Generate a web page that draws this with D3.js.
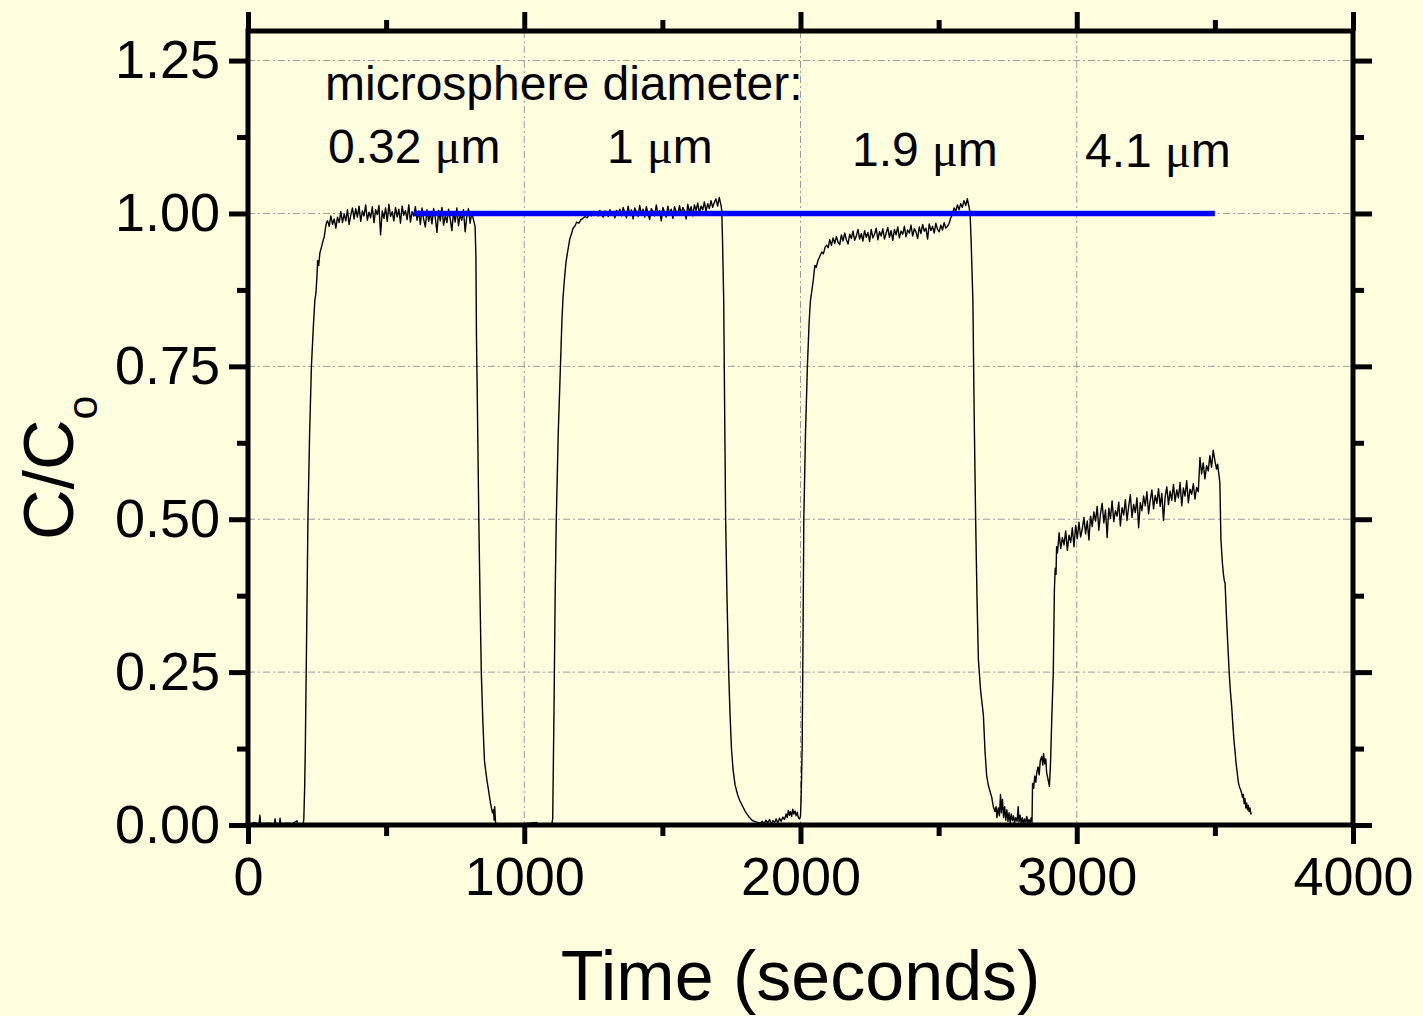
<!DOCTYPE html>
<html>
<head>
<meta charset="utf-8">
<script src="https://cdn.jsdelivr.net/npm/d3@7"></script>
<style>
  html, body { margin: 0; padding: 0; background: #ffffe0; }
  svg { display: block; }
</style>
</head>
<body>
<script>
// axis ticks
const xMajor = [0, 1000, 2000, 3000, 4000];
const xMinor = [500, 1500, 2500, 3500];
const xTickLabels = ["0", "1000", "2000", "3000", "4000"];
const yMajor = [0, 0.25, 0.5, 0.75, 1.0, 1.25];
const yMinor = [0.125, 0.375, 0.625, 0.875, 1.125];
const yTickLabels = ["0.00", "0.25", "0.50", "0.75", "1.00", "1.25"];
const xGrid = [1000, 2000, 3000];
const yGrid = [0.25, 0.5, 0.75, 1.0, 1.25];

// annotations
const annoTitle = "microsphere diameter:";
const sizeLabels = ["0.32 ", "1 ", "1.9 ", "4.1 "];

// blue reference line C/Co = 1
const refT = [600, 3500];
const refC = [1.0, 1.0];

// measured trace, [time s, C/Co]
const base1 = [[0, 0.003], [10, 0.002], [20, 0.004], [40, 0.002], [43, 0.016], [46, 0.002], [70, 0.003],
  [95, 0.002], [98, 0.010], [101, 0.002], [114, 0.003], [116, 0.011], [119, 0.002], [140, 0.003],
  [160, 0.002], [177, 0.007], [180, 0.002], [200, 0.002]];
const rise1 = [[202, 0.01], [205, 0.06], [207.5, 0.126], [212, 0.30], [217, 0.5], [223, 0.64], [229.6, 0.75],
  [236, 0.81], [242, 0.858], [246, 0.87], [250, 0.90], [252, 0.923], [256, 0.915], [260, 0.935],
  [266, 0.945], [272, 0.956], [276, 0.962], [280, 0.975], [284, 0.985]];
const plateau1Start = 288, plateau1Step = 6;
const plateau1 = [0.988, 0.979, 0.996, 0.982, 0.991, 0.976, 0.994, 0.985,
  1.003, 0.985, 0.999, 0.988, 1.006, 0.982, 0.997, 1.009,
  0.991, 1.008, 0.994, 1.012, 0.987, 1.004, 0.996, 1.014,
  0.989, 1.002, 0.993, 1.011, 0.985, 1.006, 0.998, 1.013, 0.965, 1.004, 0.992, 1.009, 0.987, 1.015,
  0.995, 1.003, 0.988, 1.010, 0.994, 1.007, 0.984, 1.012, 0.997, 1.005, 0.990, 1.014, 0.986, 1.003,
  0.996, 1.011, 0.989,
  1.004, 0.982, 1.009, 0.990, 0.978, 1.006, 0.987, 1.001, 0.983, 1.008, 0.993, 0.969, 1.005, 0.988,
  1.010, 0.981, 0.997, 0.985, 1.007, 0.991, 0.972, 1.003, 0.986, 1.009, 0.980, 0.998, 0.989, 1.006,
  0.970, 0.995, 1.008, 0.984, 1.001, 0.990, 0.979];
const fall1 = [[825, 0.93], [827, 0.80], [830, 0.70], [835.5, 0.5], [840, 0.37], [844.5, 0.25], [850, 0.17],
  [856, 0.105], [860, 0.09], [866, 0.07], [872, 0.053], [878, 0.035], [885, 0.02], [889, 0.025],
  [891, 0.008], [893, 0.03], [896, 0.004], [900, 0.002], [950, 0.001], [1000, 0.002], [1046, 0.004],
  [1050, 0.001], [1100, 0.002]];
const rise2 = [[1103, 0.01], [1108, 0.2], [1112, 0.38], [1116, 0.5], [1123, 0.64], [1131, 0.75], [1136, 0.82],
  [1140, 0.86], [1145, 0.89], [1151, 0.92], [1158, 0.94], [1165, 0.959], [1170, 0.965], [1176, 0.975],
  [1184, 0.98], [1190, 0.986], [1198, 0.984], [1205, 0.99], [1213, 0.992], [1220, 0.995], [1228, 0.993],
  [1235, 0.998], [1243, 0.996], [1250, 1.000], [1256, 0.998]];
const plateau2Start = 1262, plateau2Step = 6;
const plateau2 = [1.003, 0.996, 1.005, 0.998, 0.994, 1.004, 1.000, 0.995, 1.006, 0.997, 1.002, 0.993, 1.005, 0.999, 1.007,
  0.996, 1.010, 1.001, 0.993, 1.012, 0.998, 1.006, 0.991, 1.009, 1.002, 0.995, 1.013, 0.999, 1.007, 0.994,
  1.011, 1.000, 0.990, 1.008, 1.003, 0.996, 1.014, 0.998, 1.005, 0.988, 1.010, 1.001, 0.994, 1.012, 0.999,
  1.007, 0.992, 1.011, 1.003, 0.997,
  1.013, 0.999, 1.010, 1.004, 0.991, 1.015, 1.002, 1.011, 0.996, 1.014, 1.005, 1.017, 1.000, 1.012, 1.006,
  1.019, 1.003, 1.016, 1.008, 1.021, 1.010, 1.018, 1.024, 1.012, 1.026, 1.014];
const fall2 = [[1715, 1.005], [1718, 0.95], [1722, 0.858], [1726, 0.65], [1729, 0.5], [1734, 0.37], [1740, 0.25],
  [1745, 0.18], [1750, 0.126], [1756, 0.09], [1763, 0.066], [1772, 0.05], [1780, 0.04], [1790, 0.031],
  [1800, 0.022], [1812, 0.014], [1827, 0.007], [1840, 0.005], [1853, 0.003], [1862, 0.006], [1868, 0.002],
  [1875, 0.008], [1881, 0.003], [1888, 0.009], [1894, 0.002], [1900, 0.007], [1906, 0.004], [1912, 0.01],
  [1918, 0.003], [1924, 0.011], [1930, 0.006], [1936, 0.013], [1942, 0.009], [1948, 0.018], [1952, 0.012],
  [1956, 0.024], [1960, 0.016], [1964, 0.022], [1968, 0.014], [1972, 0.026], [1976, 0.018], [1980, 0.023],
  [1984, 0.015], [1988, 0.021], [1992, 0.012], [1997, 0.01], [2000, 0.015], [2002, 0.04]];
const rise3 = [[2004, 0.08], [2006, 0.126], [2009, 0.3], [2012, 0.5], [2018, 0.64], [2025, 0.75], [2031, 0.82],
  [2036, 0.858], [2040, 0.87], [2046, 0.89], [2052, 0.915], [2057, 0.912], [2063, 0.923], [2070, 0.93],
  [2077, 0.937], [2083, 0.934], [2089, 0.945], [2095, 0.948]];
const plateau3Start = 2100, plateau3Step = 6;
const plateau3 = [0.944, 0.957, 0.948, 0.960, 0.951, 0.962, 0.953, 0.949, 0.965, 0.955,
  0.968, 0.957, 0.950, 0.966, 0.959, 0.971, 0.956, 0.963, 0.974, 0.958,
  0.967, 0.955, 0.972, 0.961, 0.969, 0.954, 0.974, 0.960, 0.966, 0.976,
  0.957, 0.970, 0.963, 0.975, 0.958, 0.968, 0.977, 0.961, 0.972, 0.956,
  0.974, 0.965, 0.978, 0.960, 0.971, 0.966, 0.979, 0.962, 0.973, 0.968,
  0.981, 0.963, 0.975, 0.970, 0.959, 0.978, 0.967, 0.982, 0.971, 0.976,
  0.958, 0.983, 0.972, 0.979, 0.968, 0.984, 0.974, 0.970, 0.981, 0.973,
  0.985, 0.976, 0.979, 0.984, 0.993, 0.998, 1.009, 1.004, 1.014, 1.006,
  1.016, 1.010, 1.021, 1.013, 1.024, 1.011];
const fall3 = [[2614, 1.0], [2618, 0.95], [2624, 0.858], [2629, 0.66], [2634, 0.5], [2639, 0.37], [2644, 0.27],
  [2652, 0.22], [2662, 0.18], [2668, 0.12], [2674, 0.08], [2680, 0.065], [2686, 0.055], [2692, 0.046],
  [2698, 0.03], [2704, 0.022], [2708, 0.03], [2711, 0.012], [2716, 0.028], [2720, 0.015], [2724, 0.05],
  [2727, 0.02], [2731, 0.042], [2735, 0.012], [2739, 0.03], [2743, 0.008], [2747, 0.025], [2751, 0.006],
  [2755, 0.02], [2759, 0.004], [2763, 0.018], [2767, 0.007], [2771, 0.015], [2775, 0.003], [2779, 0.012],
  [2784, 0.006], [2788, 0.03], [2791, 0.005], [2795, 0.016], [2799, 0.002], [2803, 0.012], [2807, 0.003],
  [2811, 0.01], [2815, 0.002], [2819, 0.014], [2823, 0.004], [2827, 0.009], [2831, 0.002], [2835, 0.012],
  [2838, 0.003], [2840, 0.068], [2844, 0.06], [2848, 0.08], [2852, 0.07], [2855, 0.085], [2860, 0.095],
  [2864, 0.082], [2868, 0.105], [2873, 0.112], [2877, 0.098], [2880, 0.117], [2884, 0.10], [2888, 0.108],
  [2891, 0.085], [2896, 0.075], [2901, 0.063], [2905, 0.10], [2910, 0.18], [2915, 0.248], [2919, 0.384],
  [2922, 0.42], [2925, 0.41], [2927, 0.455], [2930, 0.445], [2933, 0.46]];
const plateau4Start = 2936, plateau4Step = 6;
const plateau4 = [0.478, 0.452, 0.470, 0.458, 0.481, 0.449, 0.474, 0.462, 0.486, 0.455,
  0.490, 0.468, 0.495, 0.471, 0.484, 0.503, 0.476, 0.497, 0.466, 0.505,
  0.488, 0.512, 0.497, 0.521, 0.482, 0.509, 0.526, 0.494, 0.515, 0.470,
  0.518, 0.501, 0.530, 0.496, 0.514, 0.505, 0.528, 0.489, 0.519, 0.507,
  0.532, 0.498, 0.521, 0.540, 0.503, 0.524, 0.511, 0.535, 0.486, 0.527,
  0.514, 0.538, 0.522, 0.545, 0.509, 0.531, 0.548, 0.517, 0.539, 0.526,
  0.550, 0.521, 0.542, 0.498, 0.537, 0.553, 0.524, 0.546, 0.531, 0.557,
  0.529, 0.548, 0.535, 0.560, 0.522, 0.551, 0.538, 0.563, 0.527, 0.549,
  0.541, 0.558, 0.533, 0.552, 0.545, 0.601,
  0.574, 0.592, 0.566, 0.588, 0.579, 0.604, 0.585, 0.613, 0.596, 0.582];
const fall4 = [[3510, 0.59], [3514, 0.575], [3518, 0.56], [3522, 0.466], [3527, 0.43], [3531, 0.41], [3534, 0.40],
  [3537, 0.395], [3542, 0.34], [3546, 0.302], [3552, 0.248], [3556, 0.22], [3561, 0.193], [3565, 0.165],
  [3569, 0.139], [3573, 0.12], [3577, 0.10], [3581, 0.085], [3585, 0.07], [3589, 0.062], [3593, 0.058],
  [3597, 0.052], [3600, 0.045], [3603, 0.05], [3606, 0.035], [3609, 0.043], [3612, 0.028], [3615, 0.036],
  [3618, 0.025], [3621, 0.032], [3624, 0.022], [3627, 0.028], [3630, 0.018], [3634, 0.019]];

const sampled = (start, step, vals) => vals.map((v, i) => [start + i * step, v]);

const trace = [].concat(
  base1, rise1, sampled(plateau1Start, plateau1Step, plateau1), fall1,
  rise2, sampled(plateau2Start, plateau2Step, plateau2), fall2,
  rise3, sampled(plateau3Start, plateau3Step, plateau3), fall3,
  sampled(plateau4Start, plateau4Step, plateau4), fall4);

const width = 1423, height = 1016;
const plotLeft = 248, plotRight = 1353, plotTop = 31, plotBottom = 825;
const font = '"Liberation Sans", Arial, sans-serif';

const svg = d3.select("body").append("svg")
    .attr("width", width)
    .attr("height", height);

svg.append("rect")
    .attr("width", width)
    .attr("height", height)
    .attr("fill", "#ffffe0");

const x = d3.scaleLinear().domain([0, 4000]).range([plotLeft, plotRight]);
const y = d3.scaleLinear().domain([0, 1.3]).range([plotBottom, 30]);

// grid
const grid = svg.append("g")
    .attr("stroke", "#999")
    .attr("stroke-width", 1)
    .attr("stroke-dasharray", "7,3,2,3");
grid.selectAll(".gx").data(xGrid).enter().append("line")
    .attr("x1", d => x(d)).attr("x2", d => x(d))
    .attr("y1", plotTop).attr("y2", plotBottom);
grid.selectAll(".gy").data(yGrid).enter().append("line")
    .attr("x1", plotLeft).attr("x2", plotRight)
    .attr("y1", d => y(d)).attr("y2", d => y(d));

svg.append("clipPath").attr("id", "plot")
  .append("rect")
    .attr("x", plotLeft).attr("y", plotTop)
    .attr("width", plotRight - plotLeft).attr("height", plotBottom - plotTop);

let line = d3.line()
    .x(d => x(d[0]))
    .y(d => y(d[1]));

svg.append("path")
    .datum(trace)
    .attr("clip-path", "url(#plot)")
    .attr("fill", "none")
    .attr("stroke", "#000")
    .attr("stroke-width", 1.4)
    .attr("stroke-linejoin", "round")
    .attr("d", line);

svg.append("path")
    .datum(refT.map((t, i) => [t, refC[i]]))
    .attr("fill", "none")
    .attr("stroke", "#0000ff")
    .attr("stroke-width", 5.5)
    .attr("d", line);

// axes, ticks pointing outward on every side
function addAxis(axis, transform) {
    const g = svg.append("g")
        .attr("transform", transform)
        .call(axis);
    g.select(".domain").remove();
    g.selectAll(".tick line").attr("stroke", "#000").attr("stroke-width", 5);
    return g;
}

addAxis(d3.axisBottom(x).tickValues(xMajor).tickSize(19).tickPadding(13)
    .tickFormat((d, i) => xTickLabels[i]), `translate(0,${plotBottom})`);
addAxis(d3.axisBottom(x).tickValues(xMinor).tickSize(11).tickFormat(""), `translate(0,${plotBottom})`);
addAxis(d3.axisTop(x).tickValues(xMajor).tickSize(19).tickFormat(""), `translate(0,${plotTop})`);
addAxis(d3.axisTop(x).tickValues(xMinor).tickSize(11).tickFormat(""), `translate(0,${plotTop})`);

addAxis(d3.axisLeft(y).tickValues(yMajor).tickSize(19).tickPadding(9)
    .tickFormat((d, i) => yTickLabels[i]), `translate(${plotLeft},0)`);
addAxis(d3.axisLeft(y).tickValues(yMinor).tickSize(11).tickFormat(""), `translate(${plotLeft},0)`);
addAxis(d3.axisRight(y).tickValues(yMajor).tickSize(19).tickFormat(""), `translate(${plotRight},0)`);
addAxis(d3.axisRight(y).tickValues(yMinor).tickSize(11).tickFormat(""), `translate(${plotRight},0)`);

svg.selectAll(".tick text").attr("font-family", font).attr("font-size", 54).attr("fill", "#000");

// frame
svg.append("rect")
    .attr("x", plotLeft).attr("y", plotTop)
    .attr("width", plotRight - plotLeft).attr("height", plotBottom - plotTop)
    .attr("fill", "none")
    .attr("stroke", "#000")
    .attr("stroke-width", 5);

// axis titles
svg.append("text")
    .attr("x", (plotLeft + plotRight) / 2)
    .attr("y", 1000)
    .attr("text-anchor", "middle")
    .attr("font-family", font)
    .attr("font-size", 70)
    .text("Time (seconds)");

const yTitle = svg.append("text")
    .attr("transform", "translate(73,540) rotate(-90)")
    .attr("font-family", font)
    .attr("font-size", 70);
yTitle.append("tspan").text("C/C");
yTitle.append("tspan").attr("font-size", 43).attr("dy", 24).text("o");

// annotations
svg.append("text")
    .attr("x", 325).attr("y", 100)
    .attr("font-family", font)
    .attr("font-size", 48)
    .text(annoTitle);

const labelX = [328, 607, 852, 1085];
const labelY = [163, 163, 166, 167];
sizeLabels.forEach((s, i) => {
    const t = svg.append("text")
        .attr("x", labelX[i]).attr("y", labelY[i])
        .attr("font-family", font)
        .attr("font-size", 48);
    t.append("tspan").text(s);
    t.append("tspan").attr("font-family", '"Liberation Serif", "DejaVu Serif", serif').text("\u03bc");
    t.append("tspan").text("m");
});
</script>
</body>
</html>
